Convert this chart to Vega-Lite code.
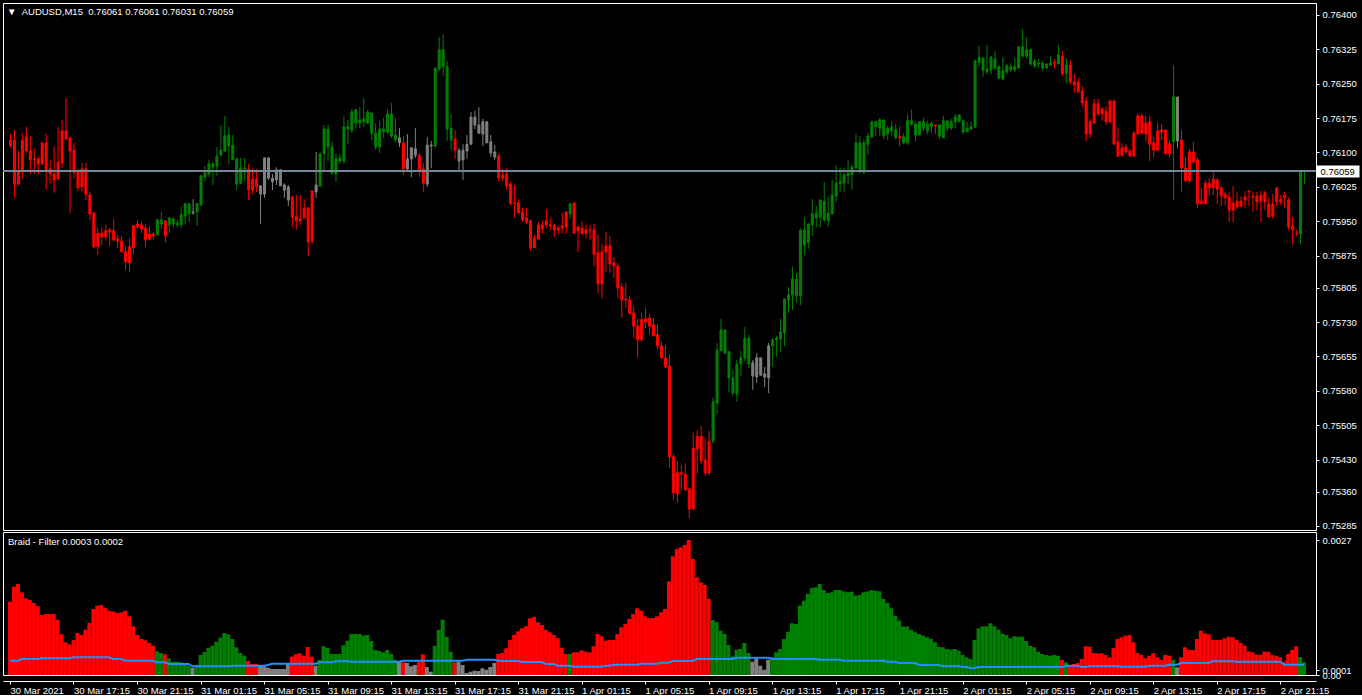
{
"$schema": "https://vega.github.io/schema/vega-lite/v6.json",
"background": "#000000",
"padding": {"left": 2, "top": 2, "right": 0, "bottom": 0},
"autosize": {"type": "pad"},
"spacing": 2,
"bounds": "flush",
"config": {
  "view": {"stroke": "#ffffff", "strokeWidth": 1, "fill": "#000000"},
  "axis": {"labelColor": "#ffffff", "tickColor": "#ffffff", "domainColor": "#ffffff", "labelFont": "Liberation Sans", "labelFontSize": 9.5, "grid": false, "labelOverlap": false, "labelFlush": false},
  "title": {"color": "#ffffff", "font": "Liberation Sans", "fontSize": 9.5, "fontWeight": "normal", "anchor": "start", "frame": "group", "orient": "top", "baseline": "bottom"}
},
"datasets": {"bars": [
{"i":0,"o":0.76114,"h":0.76140,"l":0.76110,"c":0.76127,"k":"d","s":"d","v":0.001466,"f":0.000286},
{"i":1,"o":0.76127,"h":0.76149,"l":0.76001,"c":0.76031,"k":"d","s":"d","v":0.001766,"f":0.000286},
{"i":2,"o":0.76031,"h":0.76103,"l":0.76027,"c":0.76060,"k":"d","s":"d","v":0.00182,"f":0.000286},
{"i":3,"o":0.76060,"h":0.76142,"l":0.76042,"c":0.76127,"k":"d","s":"d","v":0.001654,"f":0.00032},
{"i":4,"o":0.76134,"h":0.76156,"l":0.76099,"c":0.76103,"k":"d","s":"d","v":0.001534,"f":0.00032},
{"i":5,"o":0.76103,"h":0.76136,"l":0.76053,"c":0.76084,"k":"d","s":"d","v":0.0015,"f":0.00032},
{"i":6,"o":0.76084,"h":0.76110,"l":0.76053,"c":0.76086,"k":"d","s":"d","v":0.00144,"f":0.00032},
{"i":7,"o":0.76086,"h":0.76092,"l":0.76053,"c":0.76075,"k":"d","s":"d","v":0.001374,"f":0.00032},
{"i":8,"o":0.76075,"h":0.76121,"l":0.76073,"c":0.76121,"k":"d","s":"d","v":0.0012,"f":0.000334},
{"i":9,"o":0.76121,"h":0.76140,"l":0.76018,"c":0.76062,"k":"d","s":"d","v":0.00122,"f":0.000334},
{"i":10,"o":0.76064,"h":0.76084,"l":0.76033,"c":0.76053,"k":"d","s":"d","v":0.00122,"f":0.000334},
{"i":11,"o":0.76053,"h":0.76114,"l":0.76012,"c":0.76040,"k":"d","s":"d","v":0.00122,"f":0.000334},
{"i":12,"o":0.76042,"h":0.76156,"l":0.76040,"c":0.76079,"k":"d","s":"d","v":0.001106,"f":0.000334},
{"i":13,"o":0.76077,"h":0.76171,"l":0.76066,"c":0.76147,"k":"d","s":"d","v":0.000814,"f":0.000334},
{"i":14,"o":0.76147,"h":0.76219,"l":0.76127,"c":0.76129,"k":"d","s":"d","v":0.000654,"f":0.000334},
{"i":15,"o":0.76132,"h":0.76132,"l":0.75968,"c":0.76103,"k":"d","s":"d","v":0.000614,"f":0.000334},
{"i":16,"o":0.76105,"h":0.76121,"l":0.76044,"c":0.76057,"k":"d","s":"d","v":0.0007,"f":0.000354},
{"i":17,"o":0.76057,"h":0.76064,"l":0.76016,"c":0.76023,"k":"d","s":"d","v":0.00084,"f":0.000354},
{"i":18,"o":0.76025,"h":0.76077,"l":0.76014,"c":0.76064,"k":"d","s":"d","v":0.0008,"f":0.000354},
{"i":19,"o":0.76064,"h":0.76077,"l":0.75996,"c":0.76009,"k":"d","s":"d","v":0.000906,"f":0.000354},
{"i":20,"o":0.76007,"h":0.76014,"l":0.75953,"c":0.75966,"k":"d","s":"d","v":0.00104,"f":0.000354},
{"i":21,"o":0.75968,"h":0.75970,"l":0.75892,"c":0.75894,"k":"d","s":"d","v":0.00132,"f":0.000354},
{"i":22,"o":0.75894,"h":0.75935,"l":0.75876,"c":0.75924,"k":"d","s":"d","v":0.001386,"f":0.000354},
{"i":23,"o":0.75924,"h":0.75937,"l":0.75898,"c":0.75916,"k":"d","s":"d","v":0.0014,"f":0.000354},
{"i":24,"o":0.75916,"h":0.75942,"l":0.75907,"c":0.75929,"k":"d","s":"d","v":0.00134,"f":0.000354},
{"i":25,"o":0.75927,"h":0.75935,"l":0.75896,"c":0.75931,"k":"d","s":"d","v":0.00128,"f":0.000354},
{"i":26,"o":0.75929,"h":0.75955,"l":0.75905,"c":0.75909,"k":"d","s":"d","v":0.001266,"f":0.00032},
{"i":27,"o":0.75911,"h":0.75920,"l":0.75892,"c":0.75907,"k":"d","s":"d","v":0.00124,"f":0.00032},
{"i":28,"o":0.75907,"h":0.75918,"l":0.75883,"c":0.75883,"k":"d","s":"d","v":0.001254,"f":0.00032},
{"i":29,"o":0.75883,"h":0.75896,"l":0.75844,"c":0.75861,"k":"d","s":"d","v":0.001286,"f":0.000286},
{"i":30,"o":0.75859,"h":0.75913,"l":0.75839,"c":0.75894,"k":"d","s":"d","v":0.001174,"f":0.000286},
{"i":31,"o":0.75892,"h":0.75942,"l":0.75878,"c":0.75940,"k":"d","s":"d","v":0.000974,"f":0.000286},
{"i":32,"o":0.75944,"h":0.75953,"l":0.75935,"c":0.75937,"k":"d","s":"d","v":0.0008,"f":0.000286},
{"i":33,"o":0.75933,"h":0.75948,"l":0.75924,"c":0.75942,"k":"d","s":"d","v":0.00072,"f":0.000286},
{"i":34,"o":0.75935,"h":0.75944,"l":0.75894,"c":0.75909,"k":"d","s":"d","v":0.000694,"f":0.000286},
{"i":35,"o":0.75911,"h":0.75940,"l":0.75909,"c":0.75922,"k":"d","s":"d","v":0.00064,"f":0.000286},
{"i":36,"o":0.75922,"h":0.75927,"l":0.75909,"c":0.75918,"k":"d","s":"d","v":0.000586,"f":0.000286},
{"i":37,"o":0.75920,"h":0.75955,"l":0.75920,"c":0.75953,"k":"u","s":"u","v":0.000474,"f":0.000254},
{"i":38,"o":0.75953,"h":0.75970,"l":0.75933,"c":0.75944,"k":"u","s":"u","v":0.00044,"f":0.000254},
{"i":39,"o":0.75951,"h":0.75951,"l":0.75903,"c":0.75918,"k":"d","s":"d","v":0.000414,"f":0.000254},
{"i":40,"o":0.75942,"h":0.75959,"l":0.75924,"c":0.75957,"k":"u","s":"u","v":0.000334,"f":0.00022},
{"i":41,"o":0.75955,"h":0.75959,"l":0.75937,"c":0.75944,"k":"u","s":"u","v":0.000266,"f":0.00022},
{"i":42,"o":0.75942,"h":0.75953,"l":0.75937,"c":0.75946,"k":"u","s":"u","v":0.000266,"f":0.00022},
{"i":43,"o":0.75942,"h":0.75981,"l":0.75935,"c":0.75964,"k":"u","s":"u","v":0.000254,"f":0.00022},
{"i":44,"o":0.75961,"h":0.75990,"l":0.75944,"c":0.75988,"k":"u","s":"u","v":0.00022,"f":0.00022},
{"i":45,"o":0.75988,"h":0.75988,"l":0.75948,"c":0.75966,"k":"u","s":"u","v":0.000186,"f":0.00022},
{"i":46,"o":0.75968,"h":0.75998,"l":0.75964,"c":0.75970,"k":"n","s":"n","v":0.000146,"f":0.000174},
{"i":47,"o":0.75970,"h":0.75990,"l":0.75940,"c":0.75988,"k":"u","s":"u","v":0.0002,"f":0.000174},
{"i":48,"o":0.75985,"h":0.76051,"l":0.75985,"c":0.76049,"k":"u","s":"u","v":0.0004,"f":0.000174},
{"i":49,"o":0.76046,"h":0.76070,"l":0.76036,"c":0.76055,"k":"u","s":"u","v":0.00046,"f":0.000174},
{"i":50,"o":0.76053,"h":0.76084,"l":0.76046,"c":0.76075,"k":"u","s":"u","v":0.000546,"f":0.000174},
{"i":51,"o":0.76075,"h":0.76079,"l":0.76029,"c":0.76068,"k":"u","s":"u","v":0.000586,"f":0.000174},
{"i":52,"o":0.76070,"h":0.76112,"l":0.76049,"c":0.76092,"k":"u","s":"u","v":0.000666,"f":0.000174},
{"i":53,"o":0.76094,"h":0.76160,"l":0.76094,"c":0.76105,"k":"u","s":"u","v":0.000746,"f":0.000174},
{"i":54,"o":0.76103,"h":0.76180,"l":0.76101,"c":0.76136,"k":"u","s":"u","v":0.00084,"f":0.000174},
{"i":55,"o":0.76138,"h":0.76156,"l":0.76075,"c":0.76114,"k":"u","s":"u","v":0.000814,"f":0.000174},
{"i":56,"o":0.76116,"h":0.76138,"l":0.76084,"c":0.76084,"k":"u","s":"u","v":0.00072,"f":0.000186},
{"i":57,"o":0.76086,"h":0.76088,"l":0.76018,"c":0.76031,"k":"u","s":"u","v":0.000554,"f":0.000186},
{"i":58,"o":0.76033,"h":0.76088,"l":0.76031,"c":0.76066,"k":"u","s":"u","v":0.00044,"f":0.000186},
{"i":59,"o":0.76066,"h":0.76088,"l":0.76038,"c":0.76064,"k":"u","s":"u","v":0.000386,"f":0.000186},
{"i":60,"o":0.76064,"h":0.76075,"l":0.75996,"c":0.76018,"k":"d","s":"d","v":0.00028,"f":0.000186},
{"i":61,"o":0.76018,"h":0.76064,"l":0.76009,"c":0.76042,"k":"d","s":"d","v":0.00022,"f":0.000186},
{"i":62,"o":0.76042,"h":0.76064,"l":0.76014,"c":0.76025,"k":"d","s":"d","v":0.00022,"f":0.000186},
{"i":63,"o":0.76027,"h":0.76029,"l":0.75944,"c":0.76009,"k":"n","s":"n","v":0.000186,"f":0.000186},
{"i":64,"o":0.76009,"h":0.76090,"l":0.76001,"c":0.76088,"k":"n","s":"n","v":0.000174,"f":0.000186},
{"i":65,"o":0.76088,"h":0.76090,"l":0.76040,"c":0.76044,"k":"n","s":"n","v":0.000146,"f":0.0002},
{"i":66,"o":0.76044,"h":0.76053,"l":0.76018,"c":0.76036,"k":"n","s":"n","v":0.00012,"f":0.000226},
{"i":67,"o":0.76040,"h":0.76068,"l":0.76029,"c":0.76062,"k":"n","s":"n","v":0.00012,"f":0.000226},
{"i":68,"o":0.76062,"h":0.76064,"l":0.76027,"c":0.76027,"k":"n","s":"n","v":0.00012,"f":0.000226},
{"i":69,"o":0.76029,"h":0.76033,"l":0.76001,"c":0.76018,"k":"n","s":"n","v":0.00012,"f":0.000226},
{"i":70,"o":0.76025,"h":0.76029,"l":0.75983,"c":0.75996,"k":"n","s":"n","v":0.00022,"f":0.000226},
{"i":71,"o":0.76003,"h":0.76005,"l":0.75937,"c":0.75959,"k":"d","s":"d","v":0.000366,"f":0.000226},
{"i":72,"o":0.75961,"h":0.76007,"l":0.75931,"c":0.75951,"k":"d","s":"d","v":0.000414,"f":0.000226},
{"i":73,"o":0.75951,"h":0.76007,"l":0.75942,"c":0.75955,"k":"d","s":"d","v":0.000434,"f":0.000226},
{"i":74,"o":0.75957,"h":0.75998,"l":0.75955,"c":0.75979,"k":"d","s":"d","v":0.000386,"f":0.000226},
{"i":75,"o":0.75979,"h":0.75981,"l":0.75874,"c":0.75905,"k":"d","s":"d","v":0.00056,"f":0.000226},
{"i":76,"o":0.75907,"h":0.76018,"l":0.75900,"c":0.76016,"k":"d","s":"d","v":0.000366,"f":0.000226},
{"i":77,"o":0.76014,"h":0.76101,"l":0.76001,"c":0.76029,"k":"n","s":"n","v":0.000186,"f":0.000226},
{"i":78,"o":0.76027,"h":0.76099,"l":0.76025,"c":0.76097,"k":"u","s":"u","v":0.0003,"f":0.000254},
{"i":79,"o":0.76097,"h":0.76160,"l":0.76060,"c":0.76151,"k":"u","s":"u","v":0.000574,"f":0.000254},
{"i":80,"o":0.76151,"h":0.76160,"l":0.76081,"c":0.76112,"k":"u","s":"u","v":0.00054,"f":0.000254},
{"i":81,"o":0.76112,"h":0.76123,"l":0.76051,"c":0.76055,"k":"u","s":"u","v":0.00042,"f":0.000254},
{"i":82,"o":0.76053,"h":0.76097,"l":0.76036,"c":0.76086,"k":"u","s":"u","v":0.00042,"f":0.000274},
{"i":83,"o":0.76081,"h":0.76097,"l":0.76075,"c":0.76088,"k":"u","s":"u","v":0.00042,"f":0.000274},
{"i":84,"o":0.76081,"h":0.76180,"l":0.76075,"c":0.76156,"k":"u","s":"u","v":0.000594,"f":0.000274},
{"i":85,"o":0.76156,"h":0.76171,"l":0.76118,"c":0.76151,"k":"u","s":"u","v":0.000686,"f":0.000274},
{"i":86,"o":0.76149,"h":0.76195,"l":0.76142,"c":0.76188,"k":"u","s":"u","v":0.00082,"f":0.000266},
{"i":87,"o":0.76193,"h":0.76195,"l":0.76153,"c":0.76164,"k":"u","s":"u","v":0.00082,"f":0.000266},
{"i":88,"o":0.76164,"h":0.76199,"l":0.76153,"c":0.76171,"k":"u","s":"u","v":0.00082,"f":0.000266},
{"i":89,"o":0.76167,"h":0.76219,"l":0.76156,"c":0.76173,"k":"u","s":"u","v":0.000786,"f":0.000266},
{"i":90,"o":0.76164,"h":0.76193,"l":0.76162,"c":0.76188,"k":"u","s":"u","v":0.0008,"f":0.000266},
{"i":91,"o":0.76186,"h":0.76186,"l":0.76127,"c":0.76142,"k":"u","s":"u","v":0.00068,"f":0.000266},
{"i":92,"o":0.76142,"h":0.76164,"l":0.76105,"c":0.76112,"k":"u","s":"u","v":0.0005,"f":0.000266},
{"i":93,"o":0.76112,"h":0.76169,"l":0.76099,"c":0.76151,"k":"u","s":"u","v":0.00048,"f":0.000266},
{"i":94,"o":0.76151,"h":0.76175,"l":0.76132,"c":0.76145,"k":"u","s":"u","v":0.000454,"f":0.000266},
{"i":95,"o":0.76145,"h":0.76195,"l":0.76140,"c":0.76184,"k":"u","s":"u","v":0.0005,"f":0.000266},
{"i":96,"o":0.76184,"h":0.76208,"l":0.76132,"c":0.76136,"k":"u","s":"u","v":0.00042,"f":0.000266},
{"i":97,"o":0.76138,"h":0.76175,"l":0.76121,"c":0.76127,"k":"u","s":"u","v":0.000306,"f":0.000266},
{"i":98,"o":0.76132,"h":0.76153,"l":0.76112,"c":0.76121,"k":"n","s":"n","v":0.000266,"f":0.000266},
{"i":99,"o":0.76121,"h":0.76136,"l":0.76051,"c":0.76064,"k":"d","s":"d","v":0.000254,"f":0.000286},
{"i":100,"o":0.76064,"h":0.76140,"l":0.76062,"c":0.76086,"k":"n","s":"n","v":0.00024,"f":0.000286},
{"i":101,"o":0.76086,"h":0.76112,"l":0.76046,"c":0.76110,"k":"n","s":"n","v":0.000174,"f":0.000286},
{"i":102,"o":0.76108,"h":0.76153,"l":0.76088,"c":0.76094,"k":"n","s":"n","v":0.0002,"f":0.000286},
{"i":103,"o":0.76094,"h":0.76099,"l":0.76046,"c":0.76062,"k":"d","s":"d","v":0.000266,"f":0.000286},
{"i":104,"o":0.76064,"h":0.76077,"l":0.76014,"c":0.76033,"k":"d","s":"d","v":0.000414,"f":0.000286},
{"i":105,"o":0.76031,"h":0.76134,"l":0.76025,"c":0.76116,"k":"n","s":"n","v":0.00016,"f":0.000286},
{"i":106,"o":0.76116,"h":0.76125,"l":0.76066,"c":0.76114,"k":"n","s":"n","v":0.000066,"f":0.000286},
{"i":107,"o":0.76114,"h":0.76284,"l":0.76110,"c":0.76284,"k":"u","s":"u","v":0.000586,"f":0.000286},
{"i":108,"o":0.76282,"h":0.76352,"l":0.76278,"c":0.76324,"k":"u","s":"u","v":0.0009,"f":0.000286},
{"i":109,"o":0.76324,"h":0.76358,"l":0.76267,"c":0.76287,"k":"u","s":"u","v":0.001106,"f":0.000286},
{"i":110,"o":0.76287,"h":0.76300,"l":0.76125,"c":0.76151,"k":"u","s":"u","v":0.00076,"f":0.000286},
{"i":111,"o":0.76153,"h":0.76184,"l":0.76105,"c":0.76127,"k":"u","s":"u","v":0.000466,"f":0.000286},
{"i":112,"o":0.76129,"h":0.76149,"l":0.76086,"c":0.76105,"k":"d","s":"d","v":0.000254,"f":0.000286},
{"i":113,"o":0.76105,"h":0.76110,"l":0.76060,"c":0.76081,"k":"n","s":"n","v":0.000266,"f":0.000286},
{"i":114,"o":0.76084,"h":0.76118,"l":0.76040,"c":0.76105,"k":"n","s":"n","v":0.0002,"f":0.000286},
{"i":115,"o":0.76103,"h":0.76138,"l":0.76086,"c":0.76118,"k":"n","s":"n","v":0.00004,"f":0.000306},
{"i":116,"o":0.76118,"h":0.76188,"l":0.76118,"c":0.76177,"k":"n","s":"n","v":0.000066,"f":0.000306},
{"i":117,"o":0.76177,"h":0.76191,"l":0.76151,"c":0.76160,"k":"n","s":"n","v":0.000086,"f":0.000306},
{"i":118,"o":0.76160,"h":0.76199,"l":0.76142,"c":0.76142,"k":"n","s":"n","v":0.00008,"f":0.000306},
{"i":119,"o":0.76140,"h":0.76173,"l":0.76114,"c":0.76167,"k":"n","s":"n","v":0.000134,"f":0.000306},
{"i":120,"o":0.76167,"h":0.76169,"l":0.76121,"c":0.76121,"k":"n","s":"n","v":0.000106,"f":0.000306},
{"i":121,"o":0.76123,"h":0.76138,"l":0.76090,"c":0.76099,"k":"n","s":"n","v":0.00016,"f":0.000306},
{"i":122,"o":0.76101,"h":0.76116,"l":0.76084,"c":0.76090,"k":"n","s":"n","v":0.00024,"f":0.000306},
{"i":123,"o":0.76092,"h":0.76097,"l":0.76036,"c":0.76044,"k":"d","s":"d","v":0.00042,"f":0.00028},
{"i":124,"o":0.76044,"h":0.76064,"l":0.76038,"c":0.76051,"k":"d","s":"d","v":0.00044,"f":0.00028},
{"i":125,"o":0.76053,"h":0.76066,"l":0.76018,"c":0.76027,"k":"d","s":"d","v":0.000534,"f":0.00028},
{"i":126,"o":0.76031,"h":0.76036,"l":0.75985,"c":0.75988,"k":"d","s":"d","v":0.0007,"f":0.00028},
{"i":127,"o":0.75988,"h":0.76029,"l":0.75957,"c":0.75990,"k":"d","s":"d","v":0.0008,"f":0.00028},
{"i":128,"o":0.75990,"h":0.75998,"l":0.75966,"c":0.75968,"k":"d","s":"d","v":0.000874,"f":0.00028},
{"i":129,"o":0.75970,"h":0.75979,"l":0.75948,"c":0.75953,"k":"d","s":"d","v":0.000934,"f":0.00026},
{"i":130,"o":0.75957,"h":0.75979,"l":0.75944,"c":0.75948,"k":"d","s":"d","v":0.000974,"f":0.00026},
{"i":131,"o":0.75951,"h":0.75953,"l":0.75885,"c":0.75892,"k":"d","s":"d","v":0.001134,"f":0.00026},
{"i":132,"o":0.75892,"h":0.75920,"l":0.75892,"c":0.75913,"k":"d","s":"d","v":0.00116,"f":0.00026},
{"i":133,"o":0.75911,"h":0.75948,"l":0.75911,"c":0.75942,"k":"d","s":"d","v":0.001054,"f":0.00026},
{"i":134,"o":0.75942,"h":0.75951,"l":0.75924,"c":0.75933,"k":"d","s":"d","v":0.001,"f":0.00026},
{"i":135,"o":0.75942,"h":0.75977,"l":0.75935,"c":0.75951,"k":"d","s":"d","v":0.000906,"f":0.00022},
{"i":136,"o":0.75940,"h":0.75957,"l":0.75929,"c":0.75942,"k":"d","s":"d","v":0.000854,"f":0.00022},
{"i":137,"o":0.75942,"h":0.75944,"l":0.75916,"c":0.75931,"k":"d","s":"d","v":0.0008,"f":0.00022},
{"i":138,"o":0.75931,"h":0.75940,"l":0.75922,"c":0.75935,"k":"d","s":"d","v":0.000734,"f":0.000186},
{"i":139,"o":0.75935,"h":0.75968,"l":0.75924,"c":0.75940,"k":"d","s":"d","v":0.000546,"f":0.000186},
{"i":140,"o":0.75937,"h":0.75972,"l":0.75924,"c":0.75970,"k":"d","s":"d","v":0.00042,"f":0.000186},
{"i":141,"o":0.75966,"h":0.75990,"l":0.75955,"c":0.75988,"k":"u","s":"u","v":0.00042,"f":0.000186},
{"i":142,"o":0.75990,"h":0.75990,"l":0.75922,"c":0.75924,"k":"d","s":"d","v":0.000454,"f":0.000166},
{"i":143,"o":0.75929,"h":0.75940,"l":0.75883,"c":0.75937,"k":"d","s":"d","v":0.000454,"f":0.000166},
{"i":144,"o":0.75935,"h":0.75951,"l":0.75922,"c":0.75922,"k":"d","s":"d","v":0.000494,"f":0.000166},
{"i":145,"o":0.75924,"h":0.75942,"l":0.75913,"c":0.75931,"k":"d","s":"d","v":0.000466,"f":0.000166},
{"i":146,"o":0.75931,"h":0.75942,"l":0.75909,"c":0.75930,"k":"d","s":"d","v":0.000454,"f":0.000166},
{"i":147,"o":0.75931,"h":0.75944,"l":0.75852,"c":0.75878,"k":"d","s":"d","v":0.000574,"f":0.000166},
{"i":148,"o":0.75881,"h":0.75922,"l":0.75793,"c":0.75813,"k":"d","s":"d","v":0.00082,"f":0.000166},
{"i":149,"o":0.75813,"h":0.75900,"l":0.75782,"c":0.75883,"k":"d","s":"d","v":0.000774,"f":0.000166},
{"i":150,"o":0.75883,"h":0.75927,"l":0.75839,"c":0.75896,"k":"d","s":"d","v":0.000686,"f":0.000186},
{"i":151,"o":0.75896,"h":0.75918,"l":0.75837,"c":0.75857,"k":"d","s":"d","v":0.0007,"f":0.000186},
{"i":152,"o":0.75859,"h":0.75872,"l":0.75826,"c":0.75852,"k":"d","s":"d","v":0.0007,"f":0.000206},
{"i":153,"o":0.75852,"h":0.75859,"l":0.75782,"c":0.75804,"k":"d","s":"d","v":0.00082,"f":0.000206},
{"i":154,"o":0.75806,"h":0.75815,"l":0.75739,"c":0.75778,"k":"d","s":"d","v":0.000954,"f":0.000206},
{"i":155,"o":0.75778,"h":0.75815,"l":0.75761,"c":0.75780,"k":"d","s":"d","v":0.00102,"f":0.000206},
{"i":156,"o":0.75778,"h":0.75787,"l":0.75748,"c":0.75748,"k":"d","s":"d","v":0.00112,"f":0.000206},
{"i":157,"o":0.75750,"h":0.75765,"l":0.75695,"c":0.75721,"k":"d","s":"d","v":0.00122,"f":0.000206},
{"i":158,"o":0.75721,"h":0.75737,"l":0.75654,"c":0.75691,"k":"d","s":"d","v":0.001334,"f":0.000206},
{"i":159,"o":0.75691,"h":0.75750,"l":0.75687,"c":0.75735,"k":"d","s":"d","v":0.001286,"f":0.000226},
{"i":160,"o":0.75737,"h":0.75761,"l":0.75717,"c":0.75730,"k":"d","s":"d","v":0.001174,"f":0.000226},
{"i":161,"o":0.75739,"h":0.75748,"l":0.75704,"c":0.75721,"k":"d","s":"d","v":0.001134,"f":0.000226},
{"i":162,"o":0.75724,"h":0.75739,"l":0.75700,"c":0.75700,"k":"d","s":"d","v":0.00114,"f":0.000226},
{"i":163,"o":0.75702,"h":0.75726,"l":0.75671,"c":0.75678,"k":"d","s":"d","v":0.001174,"f":0.000226},
{"i":164,"o":0.75678,"h":0.75687,"l":0.75649,"c":0.75652,"k":"d","s":"d","v":0.001254,"f":0.000246},
{"i":165,"o":0.75652,"h":0.75680,"l":0.75630,"c":0.75632,"k":"d","s":"d","v":0.00132,"f":0.000246},
{"i":166,"o":0.75634,"h":0.75660,"l":0.75412,"c":0.75436,"k":"d","s":"d","v":0.001874,"f":0.000246},
{"i":167,"o":0.75436,"h":0.75442,"l":0.75342,"c":0.75357,"k":"d","s":"d","v":0.002374,"f":0.00028},
{"i":168,"o":0.75355,"h":0.75427,"l":0.75335,"c":0.75401,"k":"d","s":"d","v":0.00252,"f":0.00028},
{"i":169,"o":0.75401,"h":0.75418,"l":0.75361,"c":0.75398,"k":"d","s":"d","v":0.002554,"f":0.00028},
{"i":170,"o":0.75398,"h":0.75422,"l":0.75361,"c":0.75364,"k":"d","s":"d","v":0.0026,"f":0.00028},
{"i":171,"o":0.75366,"h":0.75368,"l":0.75302,"c":0.75322,"k":"d","s":"d","v":0.0027,"f":0.00028},
{"i":172,"o":0.75322,"h":0.75488,"l":0.75320,"c":0.75455,"k":"d","s":"d","v":0.00232,"f":0.00028},
{"i":173,"o":0.75453,"h":0.75494,"l":0.75398,"c":0.75481,"k":"d","s":"d","v":0.001954,"f":0.00032},
{"i":174,"o":0.75481,"h":0.75503,"l":0.75420,"c":0.75427,"k":"d","s":"d","v":0.001854,"f":0.00032},
{"i":175,"o":0.75429,"h":0.75477,"l":0.75394,"c":0.75401,"k":"d","s":"d","v":0.0018,"f":0.00032},
{"i":176,"o":0.75401,"h":0.75492,"l":0.75396,"c":0.75470,"k":"d","s":"d","v":0.00152,"f":0.00032},
{"i":177,"o":0.75470,"h":0.75566,"l":0.75464,"c":0.75556,"k":"u","s":"u","v":0.0011,"f":0.00032},
{"i":178,"o":0.75553,"h":0.75684,"l":0.75529,"c":0.75669,"k":"u","s":"u","v":0.001054,"f":0.00032},
{"i":179,"o":0.75667,"h":0.75737,"l":0.75667,"c":0.75713,"k":"u","s":"u","v":0.000886,"f":0.00032},
{"i":180,"o":0.75713,"h":0.75713,"l":0.75660,"c":0.75662,"k":"u","s":"u","v":0.00082,"f":0.00032},
{"i":181,"o":0.75665,"h":0.75667,"l":0.75577,"c":0.75608,"k":"u","s":"u","v":0.0006,"f":0.00032},
{"i":182,"o":0.75608,"h":0.75625,"l":0.75569,"c":0.75575,"k":"u","s":"u","v":0.000374,"f":0.00032},
{"i":183,"o":0.75573,"h":0.75647,"l":0.75556,"c":0.75638,"k":"u","s":"u","v":0.000506,"f":0.000346},
{"i":184,"o":0.75638,"h":0.75667,"l":0.75612,"c":0.75652,"k":"u","s":"u","v":0.00052,"f":0.000346},
{"i":185,"o":0.75652,"h":0.75719,"l":0.75645,"c":0.75695,"k":"u","s":"u","v":0.00064,"f":0.000346},
{"i":186,"o":0.75695,"h":0.75702,"l":0.75630,"c":0.75638,"k":"u","s":"u","v":0.00044,"f":0.000346},
{"i":187,"o":0.75641,"h":0.75647,"l":0.75582,"c":0.75612,"k":"n","s":"n","v":0.000266,"f":0.000346},
{"i":188,"o":0.75610,"h":0.75662,"l":0.75597,"c":0.75652,"k":"n","s":"n","v":0.000334,"f":0.000346},
{"i":189,"o":0.75652,"h":0.75652,"l":0.75612,"c":0.75614,"k":"n","s":"n","v":0.000186,"f":0.000346},
{"i":190,"o":0.75617,"h":0.75632,"l":0.75588,"c":0.75610,"k":"n","s":"n","v":0.000106,"f":0.000346},
{"i":191,"o":0.75608,"h":0.75684,"l":0.75575,"c":0.75678,"k":"n","s":"n","v":0.000306,"f":0.000346},
{"i":192,"o":0.75678,"h":0.75695,"l":0.75632,"c":0.75691,"k":"u","s":"u","v":0.000354,"f":0.00032},
{"i":193,"o":0.75691,"h":0.75700,"l":0.75654,"c":0.75695,"k":"u","s":"u","v":0.000454,"f":0.00032},
{"i":194,"o":0.75693,"h":0.75737,"l":0.75665,"c":0.75708,"k":"u","s":"u","v":0.00052,"f":0.00032},
{"i":195,"o":0.75706,"h":0.75782,"l":0.75678,"c":0.75780,"k":"u","s":"u","v":0.00072,"f":0.00032},
{"i":196,"o":0.75778,"h":0.75806,"l":0.75750,"c":0.75789,"k":"u","s":"u","v":0.000866,"f":0.00032},
{"i":197,"o":0.75789,"h":0.75850,"l":0.75756,"c":0.75824,"k":"u","s":"u","v":0.001034,"f":0.00032},
{"i":198,"o":0.75824,"h":0.75837,"l":0.75772,"c":0.75787,"k":"u","s":"u","v":0.00102,"f":0.00032},
{"i":199,"o":0.75787,"h":0.75935,"l":0.75767,"c":0.75929,"k":"u","s":"u","v":0.001386,"f":0.00032},
{"i":200,"o":0.75931,"h":0.75959,"l":0.75876,"c":0.75898,"k":"u","s":"u","v":0.001486,"f":0.00032},
{"i":201,"o":0.75903,"h":0.75946,"l":0.75890,"c":0.75944,"k":"u","s":"u","v":0.00162,"f":0.00032},
{"i":202,"o":0.75942,"h":0.75998,"l":0.75918,"c":0.75966,"k":"u","s":"u","v":0.00174,"f":0.00032},
{"i":203,"o":0.75968,"h":0.75983,"l":0.75937,"c":0.75957,"k":"u","s":"u","v":0.001754,"f":0.00032},
{"i":204,"o":0.75959,"h":0.75998,"l":0.75937,"c":0.75996,"k":"u","s":"u","v":0.00182,"f":0.000306},
{"i":205,"o":0.75994,"h":0.76036,"l":0.75948,"c":0.75953,"k":"u","s":"u","v":0.0017,"f":0.000306},
{"i":206,"o":0.75951,"h":0.76003,"l":0.75937,"c":0.75968,"k":"u","s":"u","v":0.00164,"f":0.000306},
{"i":207,"o":0.75966,"h":0.76040,"l":0.75966,"c":0.76007,"k":"u","s":"u","v":0.001654,"f":0.000306},
{"i":208,"o":0.76005,"h":0.76073,"l":0.75992,"c":0.76033,"k":"u","s":"u","v":0.0017,"f":0.000306},
{"i":209,"o":0.76031,"h":0.76066,"l":0.76014,"c":0.76036,"k":"u","s":"u","v":0.0017,"f":0.000306},
{"i":210,"o":0.76033,"h":0.76066,"l":0.76014,"c":0.76051,"k":"u","s":"u","v":0.001674,"f":0.000286},
{"i":211,"o":0.76049,"h":0.76084,"l":0.76031,"c":0.76055,"k":"u","s":"u","v":0.001654,"f":0.000286},
{"i":212,"o":0.76051,"h":0.76073,"l":0.76018,"c":0.76068,"k":"u","s":"u","v":0.001666,"f":0.000286},
{"i":213,"o":0.76066,"h":0.76142,"l":0.76066,"c":0.76121,"k":"u","s":"u","v":0.001586,"f":0.000286},
{"i":214,"o":0.76121,"h":0.76136,"l":0.76057,"c":0.76057,"k":"u","s":"u","v":0.0016,"f":0.000286},
{"i":215,"o":0.76057,"h":0.76129,"l":0.76053,"c":0.76121,"k":"u","s":"u","v":0.001654,"f":0.000286},
{"i":216,"o":0.76118,"h":0.76142,"l":0.76094,"c":0.76136,"k":"u","s":"u","v":0.001674,"f":0.000286},
{"i":217,"o":0.76134,"h":0.76169,"l":0.76132,"c":0.76167,"k":"u","s":"u","v":0.0017,"f":0.000286},
{"i":218,"o":0.76167,"h":0.76169,"l":0.76136,"c":0.76156,"k":"u","s":"u","v":0.001686,"f":0.000286},
{"i":219,"o":0.76153,"h":0.76175,"l":0.76136,"c":0.76171,"k":"u","s":"u","v":0.001674,"f":0.000286},
{"i":220,"o":0.76171,"h":0.76171,"l":0.76129,"c":0.76136,"k":"u","s":"u","v":0.00152,"f":0.000286},
{"i":221,"o":0.76140,"h":0.76158,"l":0.76127,"c":0.76153,"k":"u","s":"u","v":0.00144,"f":0.000266},
{"i":222,"o":0.76156,"h":0.76169,"l":0.76136,"c":0.76147,"k":"u","s":"u","v":0.001334,"f":0.000266},
{"i":223,"o":0.76149,"h":0.76162,"l":0.76129,"c":0.76132,"k":"u","s":"u","v":0.001186,"f":0.000266},
{"i":224,"o":0.76132,"h":0.76158,"l":0.76114,"c":0.76134,"k":"d","s":"u","v":0.001086,"f":0.00024},
{"i":225,"o":0.76134,"h":0.76142,"l":0.76118,"c":0.76121,"k":"u","s":"u","v":0.000966,"f":0.00024},
{"i":226,"o":0.76121,"h":0.76184,"l":0.76116,"c":0.76169,"k":"u","s":"u","v":0.00097,"f":0.00024},
{"i":227,"o":0.76169,"h":0.76193,"l":0.76158,"c":0.76162,"k":"u","s":"u","v":0.0009,"f":0.00024},
{"i":228,"o":0.76162,"h":0.76167,"l":0.76125,"c":0.76138,"k":"u","s":"u","v":0.000854,"f":0.00024},
{"i":229,"o":0.76138,"h":0.76167,"l":0.76138,"c":0.76167,"k":"u","s":"u","v":0.00082,"f":0.0002},
{"i":230,"o":0.76167,"h":0.76175,"l":0.76147,"c":0.76153,"k":"u","s":"u","v":0.000786,"f":0.0002},
{"i":231,"o":0.76147,"h":0.76169,"l":0.76140,"c":0.76162,"k":"u","s":"u","v":0.000754,"f":0.0002},
{"i":232,"o":0.76164,"h":0.76167,"l":0.76142,"c":0.76156,"k":"u","s":"u","v":0.00072,"f":0.0002},
{"i":233,"o":0.76160,"h":0.76160,"l":0.76140,"c":0.76158,"k":"d","s":"u","v":0.000654,"f":0.0002},
{"i":234,"o":0.76160,"h":0.76160,"l":0.76129,"c":0.76136,"k":"u","s":"u","v":0.00056,"f":0.0002},
{"i":235,"o":0.76132,"h":0.76180,"l":0.76132,"c":0.76169,"k":"u","s":"u","v":0.000554,"f":0.000174},
{"i":236,"o":0.76169,"h":0.76171,"l":0.76147,"c":0.76153,"k":"u","s":"u","v":0.00052,"f":0.000174},
{"i":237,"o":0.76153,"h":0.76173,"l":0.76149,"c":0.76167,"k":"u","s":"u","v":0.000506,"f":0.000174},
{"i":238,"o":0.76167,"h":0.76184,"l":0.76153,"c":0.76177,"k":"u","s":"u","v":0.00052,"f":0.000174},
{"i":239,"o":0.76167,"h":0.76182,"l":0.76167,"c":0.76182,"k":"u","s":"u","v":0.000486,"f":0.000174},
{"i":240,"o":0.76169,"h":0.76171,"l":0.76140,"c":0.76145,"k":"u","s":"u","v":0.0004,"f":0.00016},
{"i":241,"o":0.76145,"h":0.76167,"l":0.76145,"c":0.76153,"k":"u","s":"u","v":0.000354,"f":0.00016},
{"i":242,"o":0.76151,"h":0.76167,"l":0.76149,"c":0.76156,"k":"u","s":"u","v":0.00032,"f":0.00014},
{"i":243,"o":0.76156,"h":0.76302,"l":0.76153,"c":0.76300,"k":"u","s":"u","v":0.0007,"f":0.00014},
{"i":244,"o":0.76297,"h":0.76332,"l":0.76287,"c":0.76308,"k":"u","s":"u","v":0.000934,"f":0.00016},
{"i":245,"o":0.76306,"h":0.76306,"l":0.76265,"c":0.76280,"k":"u","s":"u","v":0.000974,"f":0.00016},
{"i":246,"o":0.76276,"h":0.76335,"l":0.76271,"c":0.76282,"k":"u","s":"u","v":0.000974,"f":0.00016},
{"i":247,"o":0.76280,"h":0.76310,"l":0.76271,"c":0.76308,"k":"u","s":"u","v":0.001034,"f":0.00016},
{"i":248,"o":0.76304,"h":0.76321,"l":0.76282,"c":0.76284,"k":"u","s":"u","v":0.000974,"f":0.00016},
{"i":249,"o":0.76287,"h":0.76289,"l":0.76260,"c":0.76262,"k":"u","s":"u","v":0.000906,"f":0.00016},
{"i":250,"o":0.76260,"h":0.76308,"l":0.76258,"c":0.76278,"k":"u","s":"u","v":0.000826,"f":0.00016},
{"i":251,"o":0.76276,"h":0.76293,"l":0.76271,"c":0.76289,"k":"u","s":"u","v":0.0008,"f":0.00016},
{"i":252,"o":0.76287,"h":0.76295,"l":0.76276,"c":0.76280,"k":"u","s":"u","v":0.000734,"f":0.00016},
{"i":253,"o":0.76280,"h":0.76306,"l":0.76276,"c":0.76287,"k":"u","s":"u","v":0.000774,"f":0.00016},
{"i":254,"o":0.76284,"h":0.76332,"l":0.76284,"c":0.76330,"k":"u","s":"u","v":0.000766,"f":0.00016},
{"i":255,"o":0.76330,"h":0.76369,"l":0.76308,"c":0.76310,"k":"u","s":"u","v":0.000766,"f":0.00016},
{"i":256,"o":0.76310,"h":0.76352,"l":0.76306,"c":0.76324,"k":"u","s":"u","v":0.00068,"f":0.00016},
{"i":257,"o":0.76324,"h":0.76326,"l":0.76289,"c":0.76293,"k":"u","s":"u","v":0.000586,"f":0.00016},
{"i":258,"o":0.76289,"h":0.76304,"l":0.76284,"c":0.76300,"k":"u","s":"u","v":0.000554,"f":0.00016},
{"i":259,"o":0.76295,"h":0.76304,"l":0.76284,"c":0.76293,"k":"u","s":"u","v":0.000466,"f":0.00016},
{"i":260,"o":0.76295,"h":0.76300,"l":0.76278,"c":0.76284,"k":"u","s":"u","v":0.00042,"f":0.00016},
{"i":261,"o":0.76284,"h":0.76295,"l":0.76284,"c":0.76293,"k":"u","s":"u","v":0.0004,"f":0.00016},
{"i":262,"o":0.76291,"h":0.76310,"l":0.76289,"c":0.76295,"k":"u","s":"u","v":0.000386,"f":0.00016},
{"i":263,"o":0.76295,"h":0.76304,"l":0.76284,"c":0.76297,"k":"d","s":"u","v":0.0004,"f":0.00016},
{"i":264,"o":0.76293,"h":0.76335,"l":0.76293,"c":0.76313,"k":"u","s":"u","v":0.000386,"f":0.00016},
{"i":265,"o":0.76310,"h":0.76321,"l":0.76267,"c":0.76271,"k":"d","s":"d","v":0.0003,"f":0.00016},
{"i":266,"o":0.76273,"h":0.76306,"l":0.76252,"c":0.76291,"k":"u","s":"u","v":0.000254,"f":0.000186},
{"i":267,"o":0.76291,"h":0.76302,"l":0.76249,"c":0.76254,"k":"d","s":"d","v":0.000186,"f":0.000186},
{"i":268,"o":0.76254,"h":0.76271,"l":0.76230,"c":0.76247,"k":"d","s":"d","v":0.00022,"f":0.000186},
{"i":269,"o":0.76254,"h":0.76262,"l":0.76232,"c":0.76232,"k":"d","s":"d","v":0.00024,"f":0.000186},
{"i":270,"o":0.76234,"h":0.76245,"l":0.76199,"c":0.76208,"k":"d","s":"d","v":0.00032,"f":0.00016},
{"i":271,"o":0.76212,"h":0.76221,"l":0.76125,"c":0.76140,"k":"d","s":"d","v":0.000574,"f":0.00016},
{"i":272,"o":0.76140,"h":0.76173,"l":0.76132,"c":0.76167,"k":"d","s":"d","v":0.000566,"f":0.000174},
{"i":273,"o":0.76164,"h":0.76217,"l":0.76162,"c":0.76206,"k":"d","s":"d","v":0.00044,"f":0.000174},
{"i":274,"o":0.76206,"h":0.76217,"l":0.76180,"c":0.76184,"k":"d","s":"d","v":0.000434,"f":0.000174},
{"i":275,"o":0.76184,"h":0.76199,"l":0.76169,"c":0.76195,"k":"d","s":"d","v":0.000434,"f":0.000174},
{"i":276,"o":0.76190,"h":0.76201,"l":0.76160,"c":0.76167,"k":"d","s":"d","v":0.0004,"f":0.000174},
{"i":277,"o":0.76167,"h":0.76215,"l":0.76164,"c":0.76212,"k":"d","s":"d","v":0.000354,"f":0.000174},
{"i":278,"o":0.76212,"h":0.76215,"l":0.76118,"c":0.76118,"k":"d","s":"d","v":0.00054,"f":0.000174},
{"i":279,"o":0.76123,"h":0.76153,"l":0.76090,"c":0.76092,"k":"d","s":"d","v":0.00072,"f":0.000174},
{"i":280,"o":0.76094,"h":0.76121,"l":0.76090,"c":0.76110,"k":"d","s":"d","v":0.000754,"f":0.000166},
{"i":281,"o":0.76112,"h":0.76118,"l":0.76097,"c":0.76101,"k":"d","s":"d","v":0.000786,"f":0.000166},
{"i":282,"o":0.76103,"h":0.76108,"l":0.76090,"c":0.76092,"k":"d","s":"d","v":0.0008,"f":0.000166},
{"i":283,"o":0.76092,"h":0.76147,"l":0.76092,"c":0.76142,"k":"d","s":"d","v":0.000654,"f":0.000166},
{"i":284,"o":0.76140,"h":0.76186,"l":0.76138,"c":0.76180,"k":"d","s":"d","v":0.00044,"f":0.000166},
{"i":285,"o":0.76180,"h":0.76186,"l":0.76140,"c":0.76142,"k":"d","s":"d","v":0.0004,"f":0.000166},
{"i":286,"o":0.76140,"h":0.76180,"l":0.76125,"c":0.76164,"k":"d","s":"d","v":0.000334,"f":0.000166},
{"i":287,"o":0.76167,"h":0.76180,"l":0.76081,"c":0.76118,"k":"d","s":"d","v":0.000386,"f":0.000186},
{"i":288,"o":0.76121,"h":0.76134,"l":0.76088,"c":0.76105,"k":"d","s":"d","v":0.000434,"f":0.000186},
{"i":289,"o":0.76105,"h":0.76164,"l":0.76105,"c":0.76147,"k":"d","s":"d","v":0.000354,"f":0.000186},
{"i":290,"o":0.76145,"h":0.76162,"l":0.76127,"c":0.76149,"k":"d","s":"d","v":0.0003,"f":0.000186},
{"i":291,"o":0.76149,"h":0.76149,"l":0.76097,"c":0.76097,"k":"d","s":"d","v":0.0004,"f":0.000186},
{"i":292,"o":0.76097,"h":0.76127,"l":0.76088,"c":0.76118,"k":"d","s":"d","v":0.000386,"f":0.000206},
{"i":293,"o":0.76123,"h":0.76291,"l":0.75996,"c":0.76221,"k":"u","s":"u","v":0.0003,"f":0.000206},
{"i":294,"o":0.76221,"h":0.76221,"l":0.76110,"c":0.76125,"k":"n","s":"n","v":0.000154,"f":0.000206},
{"i":295,"o":0.76127,"h":0.76149,"l":0.76014,"c":0.76066,"k":"d","s":"d","v":0.000354,"f":0.00024},
{"i":296,"o":0.76066,"h":0.76090,"l":0.76036,"c":0.76038,"k":"d","s":"d","v":0.000554,"f":0.00024},
{"i":297,"o":0.76038,"h":0.76108,"l":0.76033,"c":0.76101,"k":"d","s":"d","v":0.0005,"f":0.00024},
{"i":298,"o":0.76101,"h":0.76123,"l":0.76077,"c":0.76079,"k":"d","s":"d","v":0.0005,"f":0.00024},
{"i":299,"o":0.76084,"h":0.76088,"l":0.75979,"c":0.75988,"k":"d","s":"d","v":0.00072,"f":0.00024},
{"i":300,"o":0.75988,"h":0.76023,"l":0.75988,"c":0.75994,"k":"d","s":"d","v":0.000886,"f":0.00024},
{"i":301,"o":0.75988,"h":0.76040,"l":0.75988,"c":0.76033,"k":"d","s":"d","v":0.000834,"f":0.00024},
{"i":302,"o":0.76033,"h":0.76044,"l":0.76007,"c":0.76023,"k":"d","s":"d","v":0.000814,"f":0.00024},
{"i":303,"o":0.76023,"h":0.76057,"l":0.76007,"c":0.76042,"k":"d","s":"d","v":0.0007,"f":0.000274},
{"i":304,"o":0.76040,"h":0.76044,"l":0.75988,"c":0.76020,"k":"d","s":"d","v":0.0007,"f":0.000274},
{"i":305,"o":0.76023,"h":0.76025,"l":0.75983,"c":0.76005,"k":"d","s":"d","v":0.0007,"f":0.000274},
{"i":306,"o":0.76009,"h":0.76014,"l":0.75985,"c":0.76001,"k":"d","s":"d","v":0.000734,"f":0.000274},
{"i":307,"o":0.76003,"h":0.76014,"l":0.75948,"c":0.75974,"k":"d","s":"d","v":0.000766,"f":0.000274},
{"i":308,"o":0.75974,"h":0.76027,"l":0.75948,"c":0.75990,"k":"d","s":"d","v":0.000754,"f":0.000274},
{"i":309,"o":0.75994,"h":0.76014,"l":0.75977,"c":0.75981,"k":"d","s":"d","v":0.0007,"f":0.000266},
{"i":310,"o":0.75983,"h":0.76005,"l":0.75981,"c":0.75994,"k":"d","s":"d","v":0.00064,"f":0.000266},
{"i":311,"o":0.75996,"h":0.76016,"l":0.75979,"c":0.76003,"k":"d","s":"d","v":0.000586,"f":0.000266},
{"i":312,"o":0.76014,"h":0.76016,"l":0.75983,"c":0.76016,"k":"d","s":"d","v":0.000474,"f":0.000266},
{"i":313,"o":0.76005,"h":0.76014,"l":0.75970,"c":0.76003,"k":"d","s":"d","v":0.000454,"f":0.000266},
{"i":314,"o":0.76005,"h":0.76014,"l":0.75974,"c":0.75992,"k":"d","s":"d","v":0.000406,"f":0.000266},
{"i":315,"o":0.75994,"h":0.76016,"l":0.75948,"c":0.76007,"k":"d","s":"d","v":0.000406,"f":0.000266},
{"i":316,"o":0.76012,"h":0.76016,"l":0.75974,"c":0.75992,"k":"d","s":"d","v":0.000466,"f":0.000266},
{"i":317,"o":0.75988,"h":0.76001,"l":0.75959,"c":0.75959,"k":"d","s":"d","v":0.000466,"f":0.000266},
{"i":318,"o":0.75961,"h":0.76009,"l":0.75955,"c":0.75988,"k":"d","s":"d","v":0.0004,"f":0.000266},
{"i":319,"o":0.75992,"h":0.76023,"l":0.75983,"c":0.76023,"k":"d","s":"d","v":0.000386,"f":0.000266},
{"i":320,"o":0.75998,"h":0.76007,"l":0.75985,"c":0.75992,"k":"d","s":"d","v":0.000354,"f":0.000266},
{"i":321,"o":0.76001,"h":0.76014,"l":0.75979,"c":0.76007,"k":"d","s":"d","v":0.000266,"f":0.000206},
{"i":322,"o":0.75996,"h":0.76001,"l":0.75931,"c":0.75937,"k":"d","s":"d","v":0.00042,"f":0.000206},
{"i":323,"o":0.75940,"h":0.75959,"l":0.75900,"c":0.75931,"k":"d","s":"d","v":0.0005,"f":0.000206},
{"i":324,"o":0.75924,"h":0.75931,"l":0.75918,"c":0.75922,"k":"d","s":"d","v":0.000574,"f":0.000206},
{"i":325,"o":0.75922,"h":0.76061,"l":0.75900,"c":0.76061,"k":"u","s":"u","v":0.00036,"f":0.000206},
{"i":326,"o":0.76061,"h":0.76061,"l":0.76031,"c":0.76059,"k":"u","s":"u","v":0.000254,"f":0.000206}
]},
"vconcat": [
  {
    "width": 1313,
    "height": 527,
    "data": {"name": "bars"},
    "title": {"text": "\u25bc\u00a0\u00a0AUDUSD,M15\u00a0\u00a00.76061 0.76061 0.76031 0.76059", "offset": -13, "dx": 4},
    "resolve": {"axis": {"y": "independent"}},
    "layer": [
      {
        "mark": {"type": "rule", "strokeWidth": 1},
        "encoding": {
          "x": {"field": "i", "type": "quantitative", "scale": {"domain": [-0.625, 327.625], "nice": false, "zero": false}, "axis": null},
          "y": {
            "field": "l", "type": "quantitative", "title": null,
            "scale": {"domain": [0.752762, 0.764261], "nice": false, "zero": false},
            "axis": {
              "orient": "right",
              "values": [0.764, 0.76325, 0.7625, 0.76175, 0.761, 0.76025, 0.7595, 0.75875, 0.75805, 0.7573, 0.75655, 0.7558, 0.75505, 0.7543, 0.7536, 0.75285],
              "format": ".5f",
              "labelOverlap": false,
              "labelBaseline": "middle",
              "tickSize": 3,
              "labelPadding": 3
            }
          },
          "y2": {"field": "h"},
          "color": {"field": "k", "type": "nominal", "scale": {"domain": ["u", "d", "n"], "range": ["#008000", "#ff0000", "#808080"]}, "legend": null}
        }
      },
      {
        "mark": {"type": "bar", "size": 2, "strokeWidth": 1, "orient": "vertical"},
        "encoding": {
          "x": {"field": "i", "type": "quantitative", "axis": null},
          "y": {"field": "o", "type": "quantitative", "axis": null},
          "y2": {"field": "c"},
          "fill": {"field": "k", "type": "nominal", "scale": {"domain": ["u", "d", "n"], "range": ["#008000", "#ff0000", "#808080"]}, "legend": null},
          "stroke": {"field": "k", "type": "nominal", "scale": {"domain": ["u", "d", "n"], "range": ["#008000", "#ff0000", "#808080"]}, "legend": null}
        }
      },
      {
        "mark": {"type": "rule", "color": "#778899", "strokeWidth": 1},
        "encoding": {
          "y": {
            "datum": 0.76059,
            "type": "quantitative",
            "title": null,
            "axis": {
              "orient": "right",
              "values": [0.76059],
              "format": ".5f",
              "domain": false,
              "labelOverlap": false,
              "labelBaseline": "middle",
              "labelColor": "#000000",
              "tickColor": "#ffffff",
              "tickSize": 43,
              "tickWidth": 12,
              "labelPadding": -39
            }
          }
        }
      }
    ]
  },
  {
    "width": 1313,
    "height": 143,
    "data": {"name": "bars"},
    "title": {"text": "Braid - Filter 0.0003 0.0002", "offset": -14, "dx": 5},
    "layer": [
      {
        "mark": {"type": "bar", "size": 4, "orient": "vertical"},
        "encoding": {
          "x": {
            "field": "i", "type": "quantitative", "title": null,
            "scale": {"domain": [-0.5, 327.75], "nice": false, "zero": false},
            "axis": {
              "orient": "bottom",
              "values": [0, 16, 32, 48, 64, 80, 96, 112, 128, 144, 160, 176, 192, 208, 224, 240, 256, 272, 288, 304, 320],
              "labelExpr": "datum.value == 0 ? '30 Mar 2021' : utcFormat(1617110100000 + datum.value * 900000, '%-d %b %H:%M')",
              "labelOverlap": false,
              "labelAlign": "left",
              "labelBaseline": "top",
              "tickSize": 3,
              "labelPadding": 1,
              "offset": 6
            }
          },
          "y": {
            "field": "v", "type": "quantitative", "title": null, "stack": null,
            "scale": {"domain": [0, 0.00286], "nice": false, "zero": false},
            "axis": {
              "orient": "right",
              "values": [0.0027, 0.0001, 0],
              "labelExpr": "datum.value == 0 ? '0.00' : format(datum.value, '.4f')",
              "labelOverlap": false,
              "labelBaseline": "middle",
              "tickSize": 3,
              "labelPadding": 3
            }
          },
          "color": {"field": "s", "type": "nominal", "scale": {"domain": ["u", "d", "n"], "range": ["#008000", "#ff0000", "#808080"]}, "legend": null}
        }
      },
      {
        "mark": {"type": "line", "color": "#1e90ff", "strokeWidth": 2},
        "encoding": {
          "x": {"field": "i", "type": "quantitative"},
          "y": {"field": "f", "type": "quantitative"}
        }
      }
    ]
  }
]
}
